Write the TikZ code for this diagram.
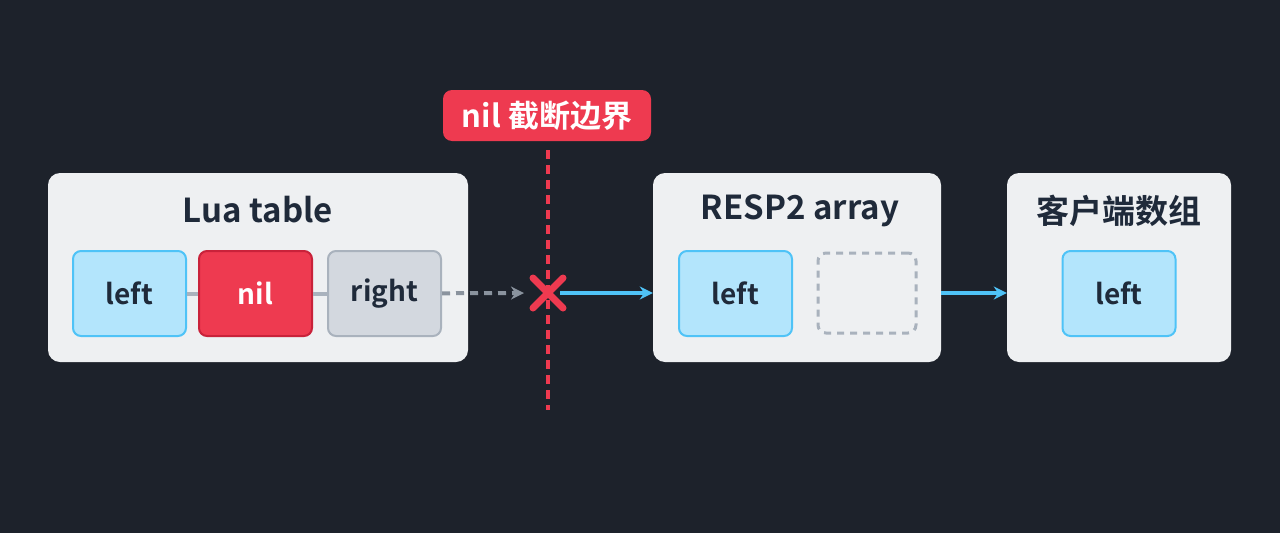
\documentclass[tikz,border=0pt]{standalone}
\usepackage{fontspec}
\setmainfont{Noto Sans CJK SC}[BoldFont={* Bold}]
\usetikzlibrary{arrows.meta}
\definecolor{bg}{HTML}{1D222B}
\definecolor{panel}{HTML}{EEF0F2}
\definecolor{ink}{HTML}{1F2A3A}
\definecolor{lb}{HTML}{B3E5FC}
\definecolor{lbb}{HTML}{4FC3F7}
\definecolor{rd}{HTML}{EE3A50}
\definecolor{rdb}{HTML}{C9223A}
\definecolor{gy}{HTML}{D3D8DF}
\definecolor{gyb}{HTML}{A9B2BD}
\definecolor{dgray}{HTML}{8A939E}
\begin{document}
\begin{tikzpicture}[x=1pt,y=-1pt,
 panel/.style={fill=panel,rounded corners=12pt,draw=none},
 title/.style={font=\bfseries\fontsize{33}{36}\selectfont,text=ink},
 cell/.style={rounded corners=8pt,line width=2pt,font=\fontsize{28}{32}\selectfont\bfseries,text=ink,minimum width=113pt,minimum height=85pt},
 blue/.style={cell,fill=lb,draw=lbb},
 arr/.style={-{Stealth[length=13pt,width=13pt]},line width=4pt,color=lbb}]
\fill[bg] (0,0) rectangle (1280,533);
\node[panel,minimum width=420pt,minimum height=189pt] (lua) at (258,267.5) {};
\node[title] (luat) at (258,210) {Lua table};
\node[blue] (l1) at (129.5,293.5) {left};
\node[cell,fill=rd,draw=rdb,text=white] (n1) at (255.5,293.5) {nil};
\node[cell,fill=gy,draw=gyb] (r1) at (384.5,293.5) {right};
\draw[gyb,line width=4pt] (l1) -- (n1);
\draw[gyb,line width=4pt] (n1) -- (r1);
\coordinate (x) at (548,293);
\coordinate (xl) at (524,293);
\draw[dgray,line width=4pt,dash pattern=on 8pt off 6pt,-{Stealth[length=13pt,width=13pt]}] (r1) -- (xl);
\draw[rd,line width=3.5pt,dash pattern=on 9pt off 6pt] (548,150) -- (548,410);
\draw[rd,line width=7pt,line cap=round] (533,278) -- (563,308) (563,278) -- (533,308);
\node[fill=rd,rounded corners=9pt,text=white,font=\bfseries\fontsize{31}{34}\selectfont,minimum width=208pt,minimum height=51pt] (lab) at (547,115.5) {nil 截断边界};
\node[panel,minimum width=288pt,minimum height=189pt] (resp) at (797,267.5) {};
\node[title] at (800,211) {RESP2 array};
\node[blue] (l2) at (735.5,293.5) {left};
\node[cell,draw=gyb,dash pattern=on 7pt off 6pt,minimum width=98pt,minimum height=80pt,line width=3pt] (e2) at (867,293) {};
\node[panel,minimum width=224pt,minimum height=189pt] (cli) at (1119,267.5) {};
\node[title] at (1119,211) {客户端数组};
\node[blue] (l3) at (1119,293.5) {left};
\coordinate (xr) at (560,293);
\draw[arr] (xr) -- (resp.west |- xr);
\draw[arr] (resp.east |- xr) -- (cli.west |- xr);
\end{tikzpicture}
\end{document}
